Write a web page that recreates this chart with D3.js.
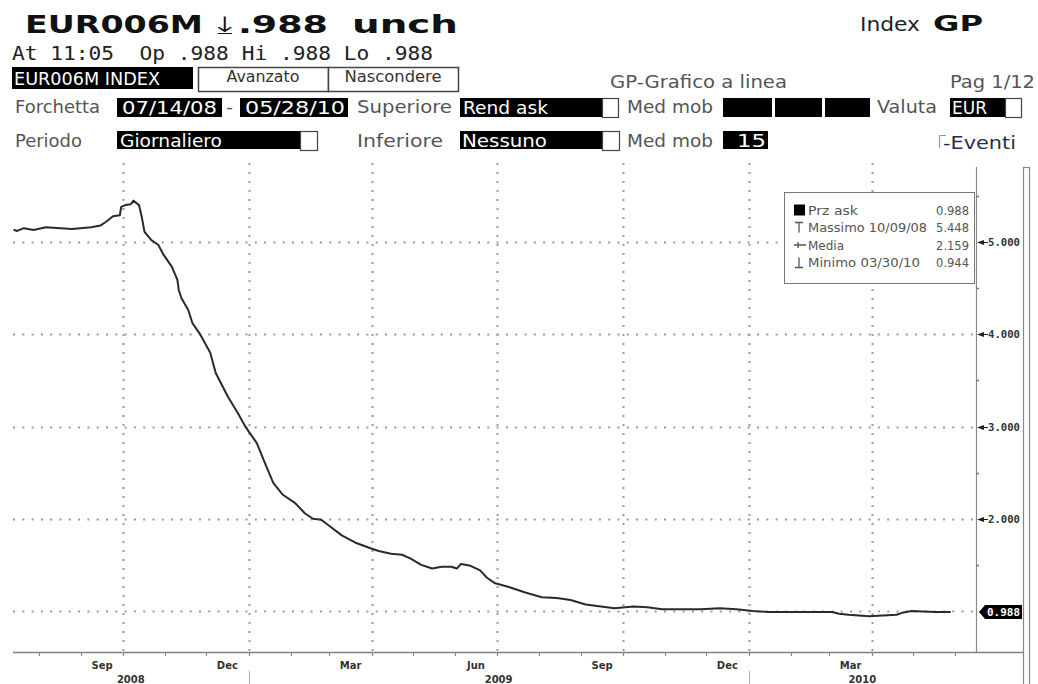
<!DOCTYPE html>
<html>
<head>
<meta charset="utf-8">
<script src="https://cdn.jsdelivr.net/npm/d3@7"></script>
<style>
  html, body { margin: 0; padding: 0; background: #ffffff; }
  svg { display: block; }
  text { white-space: pre; }
</style>
</head>
<body>
<script>
// ---------------- DATA ----------------
const dates = [
  "2008-07-14","2008-07-16","2008-07-21","2008-07-28","2008-08-06","2008-08-25","2008-09-08","2008-09-15",
  "2008-09-19","2008-09-24","2008-09-29","2008-09-30","2008-10-03","2008-10-07","2008-10-09","2008-10-13",
  "2008-10-15","2008-10-17","2008-10-22","2008-10-27","2008-10-31","2008-11-06","2008-11-10","2008-11-11",
  "2008-11-13","2008-11-18","2008-11-21","2008-11-27","2008-12-04","2008-12-08","2008-12-17","2008-12-24",
  "2008-12-30","2009-01-07","2009-01-13","2009-01-19","2009-01-26","2009-02-04","2009-02-11","2009-02-17",
  "2009-02-23","2009-03-02","2009-03-10","2009-03-20","2009-03-31","2009-04-06","2009-04-15","2009-04-23",
  "2009-04-29","2009-05-07","2009-05-15","2009-05-22","2009-05-29","2009-06-02","2009-06-05","2009-06-12",
  "2009-06-19","2009-06-24","2009-06-30","2009-07-10","2009-07-22","2009-08-03","2009-08-14","2009-08-24",
  "2009-09-04","2009-09-25","2009-10-09","2009-10-19","2009-10-30","2009-11-27","2009-12-11","2009-12-23",
  "2010-01-04","2010-01-15","2010-02-09","2010-03-03","2010-03-08","2010-03-15","2010-03-30","2010-04-19",
  "2010-04-23","2010-04-30","2010-05-17","2010-05-28"
];
const askValues = [
  5.13,5.12,5.15,5.13,5.16,5.14,5.16,5.18,
  5.22,5.28,5.29,5.38,5.40,5.41,5.448,5.40,
  5.27,5.11,5.02,4.97,4.86,4.73,4.59,4.48,
  4.39,4.26,4.12,3.99,3.80,3.58,3.32,3.15,
  2.99,2.82,2.60,2.39,2.26,2.17,2.06,2.00,
  1.99,1.91,1.82,1.74,1.68,1.65,1.62,1.61,
  1.57,1.50,1.46,1.48,1.48,1.46,1.51,1.49,
  1.44,1.36,1.30,1.26,1.20,1.15,1.14,1.12,
  1.07,1.03,1.05,1.04,1.02,1.02,1.03,1.02,
  1.00,0.99,0.99,0.99,0.97,0.96,0.944,0.96,
  0.98,1.00,0.99,0.988
];
const yGridTicks = [1, 2, 3, 4, 5];
const yLabelTicks = [2, 3, 4, 5];
const yMinorTicks = [1.5, 2.5, 3.5, 4.5, 5.5];
const lastPrice = 0.988;
const xLabelMonths = ["2008-09","2008-12","2009-03","2009-06","2009-09","2009-12","2010-03"];
const xYears = [2008, 2009, 2010];
const legendNames = ["Prz ask", "Massimo 10/09/08", "Media", "Minimo 03/30/10"];
const legendValues = ["0.988", "5.448", "2.159", "0.944"];

// ---------------- SETUP ----------------
const W = 1038, H = 684;
const svg = d3.select("body").append("svg").attr("width", W).attr("height", H);
const parse = d3.timeParse("%Y-%m-%d");
const series = dates.map((d, i) => ({ date: parse(d), v: askValues[i] }));

function T(x, y, s, o = {}) {
  const t = svg.append("text").attr("x", x).attr("y", y).text(s)
    .attr("font-family", o.family || "DejaVu Sans")
    .attr("font-size", o.size || 17)
    .attr("font-weight", o.weight || "normal")
    .attr("fill", o.fill || "#555")
    .attr("text-anchor", o.anchor || "start");
  if (o.w) t.attr("textLength", o.w).attr("lengthAdjust", o.adj || "spacingAndGlyphs");
  return t;
}
function R(x, y, w, h, fill, stroke, sw) {
  return svg.append("rect").attr("x", x).attr("y", y).attr("width", w).attr("height", h)
    .attr("fill", fill).attr("stroke", stroke || "none").attr("stroke-width", sw || 0);
}

// ---------------- HEADER ----------------
T(25, 33, "EUR006M", { size: 25, weight: "bold", fill: "#111", w: 178 });
T(217, 33, "\u2913", { size: 24, weight: "normal", fill: "#111", w: 16 });
T(238, 33, ".988", { size: 25, weight: "bold", fill: "#111", w: 90 });
T(352, 33, "unch", { size: 25, weight: "bold", fill: "#111", w: 106 });
T(860, 31, "Index", { size: 20, fill: "#222", w: 60 });
T(933, 31, "GP", { size: 22, weight: "bold", fill: "#111", w: 50 });

T(12, 60, "At 11:05  Op .988 Hi .988 Lo .988", { family: "DejaVu Sans Mono", size: 19, fill: "#222", w: 421 });

// row 3
R(12, 67, 181, 22, "#000");
T(14, 85, "EUR006M INDEX", { size: 17, fill: "#fff", w: 146 });
R(198.5, 67.5, 130, 24, "#fff", "#444", 1.5);
T(263, 82, "Avanzato", { size: 16, fill: "#333", anchor: "middle", w: 73 });
R(328.5, 67.5, 130, 24, "#fff", "#444", 1.5);
T(393, 82, "Nascondere", { size: 16, fill: "#333", anchor: "middle", w: 97 });
T(610, 88, "GP-Grafico a linea", { size: 17, fill: "#555", w: 177 });
T(950, 88, "Pag 1/12", { size: 17, fill: "#555", w: 85 });

// row 4
T(15, 113, "Forchetta", { w: 85 });
R(117, 98, 105, 19, "#000");
T(122, 114, "07/14/08", { fill: "#fff", w: 95 });
T(226, 113, "-", { w: 7 });
R(240, 98, 108, 19, "#000");
T(245, 114, "05/28/10", { fill: "#fff", w: 100 });
T(357, 113, "Superiore", { w: 95 });
R(460, 98, 142, 19, "#000");
T(463, 114, "Rend ask", { fill: "#fff", w: 85 });
R(602.5, 98.5, 16, 19, "#fff", "#444", 1.2);
T(627, 113, "Med mob", { w: 86 });
R(723, 98, 49, 19, "#000");
R(775, 98, 47, 19, "#000");
R(825, 98, 45, 19, "#000");
T(877, 113, "Valuta", { w: 60 });
R(950, 98, 55, 19, "#000");
T(952, 114, "EUR", { fill: "#fff", w: 35 });
R(1005.5, 98.5, 16, 19, "#fff", "#444", 1.2);

// row 5
T(15, 147, "Periodo", { w: 67 });
R(117, 131, 183, 18, "#000");
T(120, 147, "Giornaliero", { fill: "#fff", w: 102 });
R(300.5, 131.5, 17, 19, "#fff", "#444", 1.2);
T(357, 147, "Inferiore", { w: 86 });
R(460, 131, 142, 18, "#000");
T(462, 147, "Nessuno", { fill: "#fff", w: 85 });
R(602.5, 131.5, 17, 19, "#fff", "#444", 1.2);
T(627, 147, "Med mob", { w: 86 });
R(723, 131, 45, 18, "#000");
T(766, 147, "15", { fill: "#fff", anchor: "end", w: 29 });
svg.append("path").attr("d", "M939.5,148 V135.5 H946").attr("fill", "none").attr("stroke", "#999").attr("stroke-width", 1.2);
T(943, 149, "-Eventi", { fill: "#2a2a55", w: 73 });

// ---------------- CHART ----------------
const x = d3.scaleTime().domain([new Date(2008, 6, 13), new Date(2010, 5, 16)]).range([13, 976]);
const y = d3.scaleLinear().domain([1, 5]).range([611, 242]);
const plotTop = 163, plotBottom = 652, plotLeft = 13, plotRight = 976;

// right frame / scrollbar strip
R(1023.5, 167.5, 6, 530, "none", "#888", 1.2);

// horizontal dotted gridlines
svg.append("g").selectAll("line").data(yGridTicks).join("line")
  .attr("x1", plotLeft).attr("x2", plotRight)
  .attr("y1", d => Math.round(y(d)) + 0.5).attr("y2", d => Math.round(y(d)) + 0.5)
  .attr("stroke", "#9a9a9a").attr("stroke-width", 2).attr("stroke-dasharray", "2,7.3");

// vertical dotted gridlines (quarters)
const quarterTicks = x.ticks(d3.timeMonth.every(3));
svg.append("g").selectAll("line").data(quarterTicks).join("line")
  .attr("x1", d => Math.round(x(d)) + 0.5).attr("x2", d => Math.round(x(d)) + 0.5)
  .attr("y1", plotTop).attr("y2", plotBottom)
  .attr("stroke", "#9a9a9a").attr("stroke-width", 2).attr("stroke-dasharray", "2,7");

// bottom axis line
svg.append("line").attr("x1", plotLeft).attr("x2", 1023).attr("y1", plotBottom + 0.5).attr("y2", plotBottom + 0.5)
  .attr("stroke", "#808080").attr("stroke-width", 1.5);
// month ticks
const monthTicks = d3.timeMonth.range(x.domain()[0], x.domain()[1]);
svg.append("g").selectAll("line").data(monthTicks).join("line")
  .attr("x1", d => Math.round(x(d)) + 0.5).attr("x2", d => Math.round(x(d)) + 0.5)
  .attr("y1", plotBottom).attr("y2", plotBottom + 4)
  .attr("stroke", "#888").attr("stroke-width", 1.2);

// month labels (centred within month)
const monthParse = d3.timeParse("%Y-%m");
const fmtMonth = d3.timeFormat("%b");
svg.append("g").selectAll("text").data(xLabelMonths.map(monthParse)).join("text")
  .attr("x", d => (x(d) + x(d3.timeMonth.offset(d, 1))) / 2)
  .attr("y", 669)
  .attr("text-anchor", "middle")
  .attr("font-family", "DejaVu Sans").attr("font-weight", "bold").attr("font-size", 10)
  .attr("fill", "#333")
  .text(fmtMonth);

// year labels centred within visible part of each year
const [d0, d1] = x.domain();
svg.append("g").selectAll("text").data(xYears).join("text")
  .attr("x", yr => {
    const a = new Date(Math.max(+new Date(yr, 0, 1), +d0));
    const b = new Date(Math.min(+new Date(yr + 1, 0, 1), +d1));
    return (x(a) + x(b)) / 2;
  })
  .attr("y", 683)
  .attr("text-anchor", "middle")
  .attr("font-family", "DejaVu Sans").attr("font-weight", "bold").attr("font-size", 10)
  .attr("fill", "#333")
  .text(d => d);
// year separators
svg.append("g").selectAll("line").data(xYears.slice(1).map(yr => new Date(yr, 0, 1))).join("line")
  .attr("x1", d => Math.round(x(d)) + 0.5).attr("x2", d => Math.round(x(d)) + 0.5)
  .attr("y1", 671).attr("y2", 684)
  .attr("stroke", "#aaa").attr("stroke-width", 1);

// right axis
svg.append("line").attr("x1", plotRight + 0.5).attr("x2", plotRight + 0.5).attr("y1", 167).attr("y2", plotBottom)
  .attr("stroke", "#8a8a8a").attr("stroke-width", 1.2);
svg.append("g").selectAll("line").data(yMinorTicks).join("line")
  .attr("x1", plotRight).attr("x2", plotRight + 3)
  .attr("y1", d => Math.round(y(d)) + 0.5).attr("y2", d => Math.round(y(d)) + 0.5)
  .attr("stroke", "#777").attr("stroke-width", 1.5);

const yl = svg.append("g").selectAll("g").data(yLabelTicks).join("g")
  .attr("transform", d => `translate(0,${Math.round(y(d)) + 0.5})`);
yl.append("path").attr("d", "M977,0 L984,-2.5 L984,2.5 Z M984,-0.6 H988 V0.6 H984 Z").attr("fill", "#222");
yl.append("text").attr("x", 988).attr("y", 3.5)
  .attr("font-family", "DejaVu Sans Mono").attr("font-weight", "bold").attr("font-size", 10)
  .attr("fill", "#333").attr("textLength", 32).attr("lengthAdjust", "spacingAndGlyphs")
  .text(d => d3.format(".3f")(d));

// price line
const line = d3.line().x(d => x(d.date)).y(d => y(d.v));
svg.append("path").datum(series).attr("d", line)
  .attr("fill", "none").attr("stroke", "#2a2a2a").attr("stroke-width", 2)
  .attr("stroke-linejoin", "round").attr("stroke-linecap", "round");

// last price tag
const ly = Math.round(y(lastPrice));
svg.append("path")
  .attr("d", `M979,${ly} L985,${ly - 7} H1022 V${ly + 7} H985 Z`)
  .attr("fill", "#000");
svg.append("text").attr("x", 987).attr("y", ly + 4)
  .attr("font-family", "DejaVu Sans Mono").attr("font-weight", "bold").attr("font-size", 10)
  .attr("fill", "#fff").attr("textLength", 33).attr("lengthAdjust", "spacingAndGlyphs")
  .text(d3.format(".3f")(lastPrice));

// ---------------- LEGEND ----------------
R(784.5, 192.5, 190, 91, "#fff", "#777", 1);
const rowY = [210, 227.5, 245, 262.5];
const nameW = [50, 119, null, 112];
legendNames.forEach((n, i) => {
  T(808, rowY[i] + 4.5, n, { size: 12, fill: "#555", w: nameW[i] });
  T(969, rowY[i] + 4.5, legendValues[i], { size: 11.5, fill: "#555", anchor: "end" });
});
// icons
R(794, rowY[0] - 5.5, 11, 11, "#000");
svg.append("path").attr("d", `M795,${rowY[1] - 5} H803 M799,${rowY[1] - 5} V${rowY[1] + 5}`)
  .attr("stroke", "#555").attr("stroke-width", 1.3).attr("fill", "none");
svg.append("path").attr("d", `M794,${rowY[2]} H806 M798,${rowY[2] - 3} V${rowY[2] + 3}`)
  .attr("stroke", "#555").attr("stroke-width", 1.3).attr("fill", "none");
svg.append("path").attr("d", `M799,${rowY[3] - 5} V${rowY[3] + 5} M795,${rowY[3] + 5} H803`)
  .attr("stroke", "#555").attr("stroke-width", 1.3).attr("fill", "none");
</script>
</body>
</html>
